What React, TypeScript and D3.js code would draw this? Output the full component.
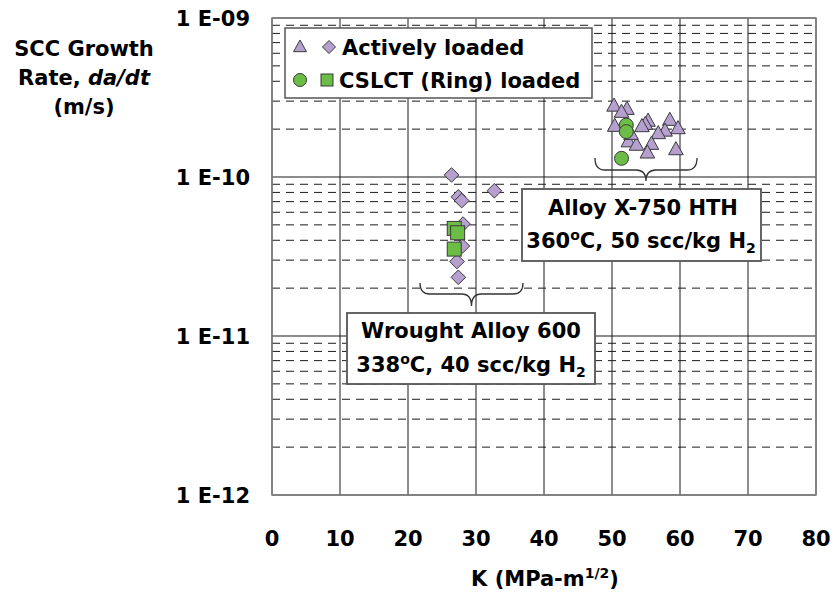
import React from "react";
import * as d3 from "d3";

// ---- Data ----
// Wrought Alloy 600, actively loaded (diamonds)
const a600ActiveK = [26.4, 32.7, 27.4, 27.9, 28.1, 28.0, 27.2, 27.4];
const a600ActiveRate = [1.03e-10, 8.2e-11, 7.5e-11, 7.1e-11, 5.06e-11, 3.68e-11, 2.94e-11, 2.34e-11];
// Wrought Alloy 600, CSLCT loaded (squares)
const a600RingK = [26.8, 27.3, 26.8];
const a600RingRate = [4.75e-11, 4.46e-11, 3.52e-11];
// Alloy X-750 HTH, actively loaded (triangles)
const x750ActiveK = [50.3, 52.2, 51.4, 50.4, 55.3, 54.9, 54.4, 58.5, 59.7, 57.8, 56.8, 52.4, 53.6, 55.8, 55.2, 59.4, 52.8];
const x750ActiveRate = [2.8e-10, 2.67e-10, 2.56e-10, 2.09e-10, 2.25e-10, 2.15e-10, 2.08e-10, 2.28e-10, 2.02e-10, 1.95e-10, 1.88e-10, 1.67e-10, 1.59e-10, 1.61e-10, 1.42e-10, 1.49e-10, 1.86e-10];
// Alloy X-750 HTH, CSLCT loaded (circles)
const x750RingK = [52.1, 52.1, 51.4];
const x750RingRate = [2.12e-10, 1.93e-10, 1.31e-10];

const xTicks = [0, 10, 20, 30, 40, 50, 60, 70, 80];
const yDecades = [1e-9, 1e-10, 1e-11, 1e-12];
const yTickLabels = ["1 E-09", "1 E-10", "1 E-11", "1 E-12"];
const legendLabels = ["Actively loaded", "CSLCT (Ring) loaded"];

// ---- Layout ----
const W = 834, H = 592;
const L = 272, R = 816, T = 18, B = 495;
const FONT = "'DejaVu Sans', Verdana, sans-serif";
const FS = 21;
const PURPLE = "#b6a0cf";
const GREEN = "#6cbd45";
const STROKE = "#3a3a3a";

const x = d3.scaleLinear().domain([0, 80]).range([L, R]);
const y = d3.scaleLog().domain([1e-12, 1e-9]).range([B, T]);

function tri(cx: number, cy: number, s = 7.3) {
  const h = s * 1.8;
  return `M${cx},${cy - h * 0.6}L${cx + s},${cy + h * 0.4}L${cx - s},${cy + h * 0.4}Z`;
}
function diamond(cx: number, cy: number, s = 7.3) {
  return `M${cx},${cy - s}L${cx + s},${cy}L${cx},${cy + s}L${cx - s},${cy}Z`;
}
function brace(x1: number, x2: number, y0: number, y1: number, y2: number) {
  const xm = (x1 + x2) / 2;
  const r = 10;
  return `M${x1},${y0} Q${x1},${y1} ${x1 + r},${y1} L${xm - r},${y1} Q${xm},${y1} ${xm},${y2} Q${xm},${y1} ${xm + r},${y1} L${x2 - r},${y1} Q${x2},${y1} ${x2},${y0}`;
}

export default function App() {
  const minorLines: number[] = [];
  for (let e = -12; e < -9; e++) {
    for (let m = 2; m <= 9; m++) minorLines.push(m * Math.pow(10, e));
  }
  return (
    <svg width={W} height={H} style={{ position: "absolute", left: 0, top: 0, background: "#fff" }} fontFamily={FONT}>
      {/* minor dashed gridlines */}
      {minorLines.map((v, i) => (
        <line key={"mn" + i} x1={L} x2={R} y1={y(v)} y2={y(v)} stroke="#1a1a1a" strokeWidth={1} strokeDasharray="8,6" />
      ))}
      {/* decade solid lines */}
      {yDecades.map((v, i) => (
        <line key={"dc" + i} x1={L} x2={R} y1={y(v)} y2={y(v)} stroke="#1a1a1a" strokeWidth={1} />
      ))}
      {/* vertical gridlines */}
      {xTicks.map((v, i) => (
        <line key={"vx" + i} x1={x(v)} x2={x(v)} y1={T} y2={B} stroke="#1a1a1a" strokeWidth={1} />
      ))}
      {/* plot border */}
      <rect x={L} y={T} width={R - L} height={B - T} fill="none" stroke="#808080" strokeWidth={1.5} />

      {/* y tick labels */}
      {yDecades.map((v, i) => (
        <text key={"yl" + i} x={250} y={y(v)} dy="0.36em" textAnchor="end" fontSize={FS} fontWeight="bold">{yTickLabels[i]}</text>
      ))}
      {/* x tick labels */}
      {xTicks.map((v, i) => (
        <text key={"xl" + i} x={x(v)} y={538} dy="0.36em" textAnchor="middle" fontSize={FS} fontWeight="bold">{v}</text>
      ))}
      {/* axis titles */}
      <text x={545} y={578} dy="0.36em" textAnchor="middle" fontSize={FS} fontWeight="bold">
        K (MPa-m<tspan fontSize={14} dy={-8}>1/2</tspan><tspan dy={8}>)</tspan>
      </text>
      <g fontSize={FS} fontWeight="bold" textAnchor="middle">
        <text x={84} y={48} dy="0.36em">SCC Growth</text>
        <text x={84} y={77} dy="0.36em">Rate, <tspan fontStyle="italic">da/dt</tspan></text>
        <text x={84} y={106} dy="0.36em">(m/s)</text>
      </g>

      {/* legend */}
      <rect x={285} y={28} width={307} height={70} fill="#fff" stroke="#555" strokeWidth={1.5} />
      <path d={tri(300, 47, 6.5)} fill={PURPLE} stroke={STROKE} strokeWidth={1} />
      <path d={diamond(329, 47, 6.5)} fill={PURPLE} stroke={STROKE} strokeWidth={1} />
      <text x={342} y={47} dy="0.36em" fontSize={FS} fontWeight="bold">{legendLabels[0]}</text>
      <circle cx={300} cy={80} r={6.5} fill={GREEN} stroke={STROKE} strokeWidth={1} />
      <rect x={321} y={74} width={12} height={12} fill={GREEN} stroke={STROKE} strokeWidth={1} />
      <text x={339} y={80} dy="0.36em" fontSize={FS} fontWeight="bold">{legendLabels[1]}</text>

      {/* data: Alloy 600 */}
      {a600ActiveK.map((k, i) => (
        <path key={"d" + i} d={diamond(x(k), y(a600ActiveRate[i]))} fill={PURPLE} stroke={STROKE} strokeWidth={1} />
      ))}
      {a600RingK.map((k, i) => (
        <rect key={"s" + i} x={x(k) - 7} y={y(a600RingRate[i]) - 7} width={14} height={14} fill={GREEN} stroke={STROKE} strokeWidth={1} />
      ))}
      {/* data: X-750 */}
      {x750ActiveK.map((k, i) => (
        <path key={"t" + i} d={tri(x(k), y(x750ActiveRate[i]))} fill={PURPLE} stroke={STROKE} strokeWidth={1} />
      ))}
      {x750RingK.map((k, i) => (
        <circle key={"c" + i} cx={x(k)} cy={y(x750RingRate[i])} r={7} fill={GREEN} stroke={STROKE} strokeWidth={1} />
      ))}

      {/* braces */}
      <path d={brace(595, 697, 158, 170, 181)} fill="none" stroke="#333" strokeWidth={1.3} />
      <path d={brace(420, 523, 283, 294, 306)} fill="none" stroke="#333" strokeWidth={1.3} />

      {/* annotation boxes */}
      <rect x={522} y={189} width={239} height={72} fill="#fff" stroke="#555" strokeWidth={1.8} />
      <g fontSize={FS} fontWeight="bold" textAnchor="middle">
        <text x={643} y={207} dy="0.36em">Alloy X-750 HTH</text>
        <text x={641} y={240} dy="0.36em">360<tspan fontSize={14} dy={-8}>o</tspan><tspan dy={8}>C, 50 scc/kg H</tspan><tspan fontSize={14} dy={5}>2</tspan></text>
      </g>
      <rect x={347} y={313} width={248} height={71} fill="#fff" stroke="#555" strokeWidth={1.8} />
      <g fontSize={FS} fontWeight="bold" textAnchor="middle">
        <text x={471} y={330} dy="0.36em">Wrought Alloy 600</text>
        <text x={471} y={364} dy="0.36em">338<tspan fontSize={14} dy={-8}>o</tspan><tspan dy={8}>C, 40 scc/kg H</tspan><tspan fontSize={14} dy={5}>2</tspan></text>
      </g>
    </svg>
  );
}
